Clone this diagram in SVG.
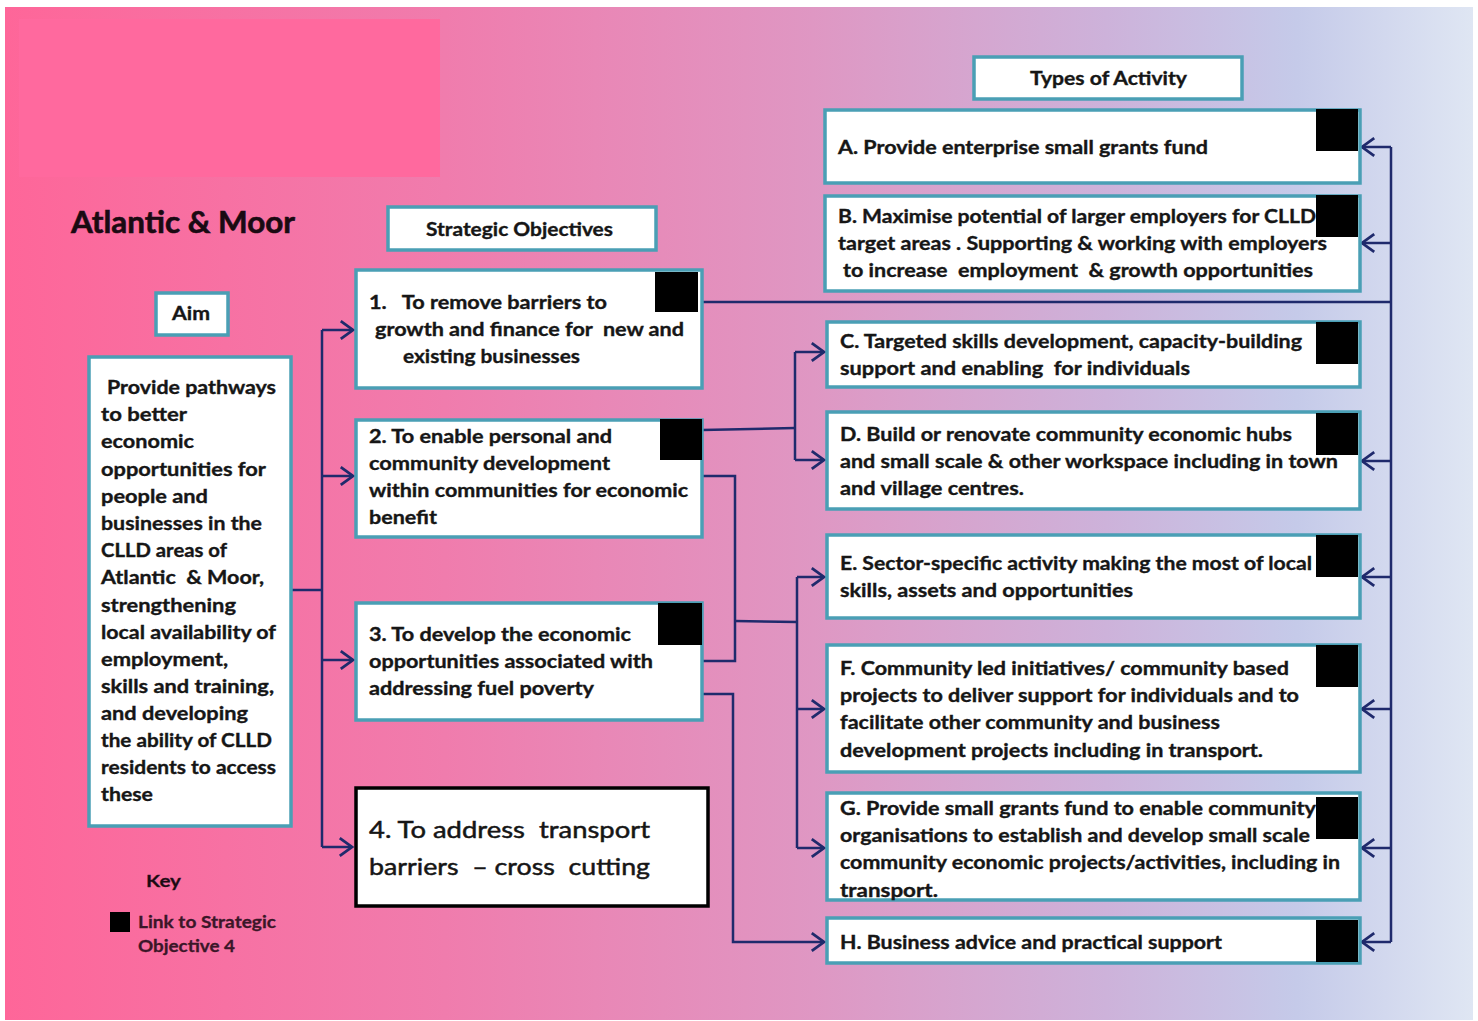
<svg xmlns="http://www.w3.org/2000/svg" width="1478" height="1021" viewBox="0 0 1478 1021">
<defs>
<linearGradient id="bg" x1="0" y1="0" x2="1" y2="0">
<stop offset="0" stop-color="#fe6699"/>
<stop offset="0.3" stop-color="#f07cad"/>
<stop offset="0.55" stop-color="#df97c3"/>
<stop offset="0.75" stop-color="#cdb2da"/>
<stop offset="0.88" stop-color="#c5cae9"/>
<stop offset="1" stop-color="#dfe6f3"/>
</linearGradient>
<marker id="arr" markerUnits="userSpaceOnUse" markerWidth="20" markerHeight="20" viewBox="-12 -9 14 18" refX="0" refY="0" orient="auto">
<path d="M-11,-8 L0,0 L-11,8" fill="none" stroke="#1f2a6c" stroke-width="2.5" stroke-linejoin="miter"/>
</marker>
<style>
.box{fill:#ffffff;stroke:#4a9fb5;stroke-width:3.5}
.box4{fill:#ffffff;stroke:#000000;stroke-width:3.5}
.sq{fill:#000000}
.t{font-family:Lato,"Open Sans","Liberation Sans",sans-serif;font-weight:700;font-size:18.5px;fill:#161616;stroke:#161616;stroke-width:0.35}
.t4{font-family:Lato,"Open Sans","Liberation Sans",sans-serif;font-weight:400;font-size:24px;fill:#161616;stroke:#161616;stroke-width:0.5}
.title{font-family:Lato,"Open Sans","Liberation Sans",sans-serif;font-weight:700;font-size:30px;fill:#1a0a12;stroke:#1a0a12;stroke-width:0.6}
.key{font-family:Lato,"Open Sans","Liberation Sans",sans-serif;font-weight:700;font-size:17px;fill:#3b1628;stroke:#3b1628;stroke-width:0.3}
.c{fill:none;stroke:#1f2a6c;stroke-width:2.5}
</style>
</defs>
<rect x="0" y="0" width="1478" height="1021" fill="#ffffff"/>
<rect x="5" y="7" width="1468" height="1013" fill="url(#bg)"/>
<rect x="19" y="19" width="421" height="158" fill="#ff699e"/>

<text class="title" x="71" y="233" textLength="224" lengthAdjust="spacingAndGlyphs">Atlantic &amp; Moor</text>

<g id="connectors">
<path class="c" d="M291,590 H322"/>
<path class="c" d="M322,330 V847"/>
<path class="c" d="M322,330 H353" marker-end="url(#arr)"/>
<path class="c" d="M322,476 H353" marker-end="url(#arr)"/>
<path class="c" d="M322,660 H353" marker-end="url(#arr)"/>
<path class="c" d="M322,847 H352" marker-end="url(#arr)"/>
<path class="c" d="M702,302 H1391"/>
<path class="c" d="M1391,147 V942"/>
<path class="c" d="M1391,147 H1362" marker-end="url(#arr)"/>
<path class="c" d="M1391,243 H1362" marker-end="url(#arr)"/>
<path class="c" d="M1391,461 H1362" marker-end="url(#arr)"/>
<path class="c" d="M1391,577 H1362" marker-end="url(#arr)"/>
<path class="c" d="M1391,709 H1362" marker-end="url(#arr)"/>
<path class="c" d="M1391,848 H1362" marker-end="url(#arr)"/>
<path class="c" d="M1391,942 H1362" marker-end="url(#arr)"/>
<path class="c" d="M702,430 L795,428"/>
<path class="c" d="M795,352 V460"/>
<path class="c" d="M795,352 H824" marker-end="url(#arr)"/>
<path class="c" d="M795,460 H824" marker-end="url(#arr)"/>
<path class="c" d="M702,476 H735 V661 H702"/>
<path class="c" d="M735,621 L797,622"/>
<path class="c" d="M797,577 V848"/>
<path class="c" d="M797,577 H824" marker-end="url(#arr)"/>
<path class="c" d="M797,709 H824" marker-end="url(#arr)"/>
<path class="c" d="M797,848 H824" marker-end="url(#arr)"/>
<path class="c" d="M702,694 H733 V942 L824,942" marker-end="url(#arr)"/>
</g>

<g id="strategic-objectives-header">
<rect class="box" x="388" y="207" width="268" height="43"/>
<text class="t" x="426" y="236" textLength="187" lengthAdjust="spacingAndGlyphs">Strategic Objectives</text>
</g>

<g id="types-header">
<rect class="box" x="974" y="57" width="268" height="42"/>
<text class="t" x="1030" y="85" textLength="157" lengthAdjust="spacingAndGlyphs">Types of Activity</text>
</g>

<g id="aim-header">
<rect class="box" x="156" y="293" width="72" height="42"/>
<text class="t" x="172" y="320" textLength="38" lengthAdjust="spacingAndGlyphs">Aim</text>
</g>

<g id="aim">
<rect class="box" x="89" y="357" width="202" height="469"/>
<text class="t" x="107" y="394" textLength="169" lengthAdjust="spacingAndGlyphs">Provide pathways</text>
<text class="t" x="101" y="421" textLength="86" lengthAdjust="spacingAndGlyphs">to better</text>
<text class="t" x="101" y="448" textLength="93" lengthAdjust="spacingAndGlyphs">economic</text>
<text class="t" x="101" y="476" textLength="165" lengthAdjust="spacingAndGlyphs">opportunities for</text>
<text class="t" x="101" y="503" textLength="107" lengthAdjust="spacingAndGlyphs">people and</text>
<text class="t" x="101" y="530" textLength="161" lengthAdjust="spacingAndGlyphs">businesses in the</text>
<text class="t" x="101" y="557" textLength="126" lengthAdjust="spacingAndGlyphs">CLLD areas of</text>
<text class="t" x="101" y="584" textLength="163" lengthAdjust="spacingAndGlyphs" xml:space="preserve">Atlantic  &amp; Moor,</text>
<text class="t" x="101" y="612" textLength="135" lengthAdjust="spacingAndGlyphs">strengthening</text>
<text class="t" x="101" y="639" textLength="175" lengthAdjust="spacingAndGlyphs">local availability of</text>
<text class="t" x="101" y="666" textLength="127" lengthAdjust="spacingAndGlyphs">employment,</text>
<text class="t" x="101" y="693" textLength="173" lengthAdjust="spacingAndGlyphs">skills and training,</text>
<text class="t" x="101" y="720" textLength="147" lengthAdjust="spacingAndGlyphs">and developing</text>
<text class="t" x="101" y="747" textLength="171" lengthAdjust="spacingAndGlyphs">the ability of CLLD</text>
<text class="t" x="101" y="774" textLength="175" lengthAdjust="spacingAndGlyphs">residents to access</text>
<text class="t" x="101" y="801" textLength="52" lengthAdjust="spacingAndGlyphs">these</text>
</g>

<g id="obj1">
<rect class="box" x="356" y="270" width="346" height="118"/>
<text class="t" x="369" y="309" textLength="238" lengthAdjust="spacingAndGlyphs" xml:space="preserve">1.   To remove barriers to</text>
<text class="t" x="375" y="336" textLength="309" lengthAdjust="spacingAndGlyphs" xml:space="preserve">growth and finance for  new and</text>
<text class="t" x="403" y="363" textLength="177" lengthAdjust="spacingAndGlyphs">existing businesses</text>
<rect class="sq" x="655" y="272" width="43" height="40"/>
</g>

<g id="obj2">
<rect class="box" x="356" y="420" width="346" height="117"/>
<text class="t" x="369" y="443" textLength="243" lengthAdjust="spacingAndGlyphs">2. To enable personal and</text>
<text class="t" x="369" y="470" textLength="241" lengthAdjust="spacingAndGlyphs">community development</text>
<text class="t" x="369" y="497" textLength="319" lengthAdjust="spacingAndGlyphs">within communities for economic</text>
<text class="t" x="369" y="524" textLength="68" lengthAdjust="spacingAndGlyphs">benefit</text>
<rect class="sq" x="660" y="419" width="42" height="41"/>
</g>

<g id="obj3">
<rect class="box" x="356" y="603" width="346" height="117"/>
<text class="t" x="369" y="641" textLength="262" lengthAdjust="spacingAndGlyphs">3. To develop the economic</text>
<text class="t" x="369" y="668" textLength="284" lengthAdjust="spacingAndGlyphs">opportunities associated with</text>
<text class="t" x="369" y="695" textLength="225" lengthAdjust="spacingAndGlyphs">addressing fuel poverty</text>
<rect class="sq" x="658" y="603" width="44" height="42"/>
</g>

<g id="obj4">
<rect class="box4" x="356" y="788" width="352" height="118"/>
<text class="t4" x="369" y="838" textLength="281" lengthAdjust="spacingAndGlyphs" xml:space="preserve">4. To address  transport</text>
<text class="t4" x="369" y="875" textLength="281" lengthAdjust="spacingAndGlyphs" xml:space="preserve">barriers  – cross  cutting</text>
</g>

<g id="act-a">
<rect class="box" x="825" y="110" width="535" height="73"/>
<text class="t" x="838" y="154" textLength="370" lengthAdjust="spacingAndGlyphs">A. Provide enterprise small grants fund</text>
<rect class="sq" x="1316" y="109" width="42" height="42"/>
</g>

<g id="act-b">
<rect class="box" x="825" y="196" width="535" height="95"/>
<text class="t" x="838" y="223" textLength="478" lengthAdjust="spacingAndGlyphs">B. Maximise potential of larger employers for CLLD</text>
<text class="t" x="838" y="250" textLength="489" lengthAdjust="spacingAndGlyphs">target areas . Supporting &amp; working with employers</text>
<text class="t" x="843" y="277" textLength="470" lengthAdjust="spacingAndGlyphs" xml:space="preserve">to increase  employment  &amp; growth opportunities</text>
<rect class="sq" x="1316" y="195" width="42" height="42"/>
</g>

<g id="act-c">
<rect class="box" x="827" y="322" width="533" height="65"/>
<text class="t" x="840" y="348" textLength="462" lengthAdjust="spacingAndGlyphs">C. Targeted skills development, capacity-building</text>
<text class="t" x="840" y="375" textLength="350" lengthAdjust="spacingAndGlyphs" xml:space="preserve">support and enabling  for individuals</text>
<rect class="sq" x="1316" y="322" width="42" height="42"/>
</g>

<g id="act-d">
<rect class="box" x="827" y="412" width="533" height="97"/>
<text class="t" x="840" y="441" textLength="452" lengthAdjust="spacingAndGlyphs">D. Build or renovate community economic hubs</text>
<text class="t" x="840" y="468" textLength="498" lengthAdjust="spacingAndGlyphs">and small scale &amp; other workspace including in town</text>
<text class="t" x="840" y="495" textLength="184" lengthAdjust="spacingAndGlyphs">and village centres.</text>
<rect class="sq" x="1316" y="413" width="42" height="42"/>
</g>

<g id="act-e">
<rect class="box" x="827" y="535" width="533" height="83"/>
<text class="t" x="840" y="570" textLength="472" lengthAdjust="spacingAndGlyphs">E. Sector-specific activity making the most of local</text>
<text class="t" x="840" y="597" textLength="293" lengthAdjust="spacingAndGlyphs">skills, assets and opportunities</text>
<rect class="sq" x="1316" y="535" width="42" height="42"/>
</g>

<g id="act-f">
<rect class="box" x="827" y="645" width="533" height="127"/>
<text class="t" x="840" y="675" textLength="449" lengthAdjust="spacingAndGlyphs">F. Community led initiatives/ community based</text>
<text class="t" x="840" y="702" textLength="459" lengthAdjust="spacingAndGlyphs">projects to deliver support for individuals and to</text>
<text class="t" x="840" y="729" textLength="380" lengthAdjust="spacingAndGlyphs">facilitate other community and business</text>
<text class="t" x="840" y="757" textLength="423" lengthAdjust="spacingAndGlyphs">development projects including in transport.</text>
<rect class="sq" x="1316" y="645" width="42" height="42"/>
</g>

<g id="act-g">
<rect class="box" x="827" y="793" width="533" height="107"/>
<text class="t" x="840" y="815" textLength="476" lengthAdjust="spacingAndGlyphs">G. Provide small grants fund to enable community</text>
<text class="t" x="840" y="842" textLength="470" lengthAdjust="spacingAndGlyphs">organisations to establish and develop small scale</text>
<text class="t" x="840" y="869" textLength="500" lengthAdjust="spacingAndGlyphs">community economic projects/activities, including in</text>
<text class="t" x="840" y="897" textLength="98" lengthAdjust="spacingAndGlyphs">transport.</text>
<rect class="sq" x="1316" y="797" width="42" height="42"/>
</g>

<g id="act-h">
<rect class="box" x="827" y="918" width="533" height="45"/>
<text class="t" x="840" y="949" textLength="382" lengthAdjust="spacingAndGlyphs">H. Business advice and practical support</text>
<rect class="sq" x="1316" y="920" width="42" height="42"/>
</g>

<g id="key">
<text class="key" x="146" y="887" textLength="35" lengthAdjust="spacingAndGlyphs" style="fill:#1a0a12">Key</text>
<rect class="sq" x="110" y="912" width="20" height="20"/>
<text class="key" x="138" y="928" textLength="138" lengthAdjust="spacingAndGlyphs">Link to Strategic</text>
<text class="key" x="138" y="952" textLength="97" lengthAdjust="spacingAndGlyphs">Objective 4</text>
</g>
</svg>
